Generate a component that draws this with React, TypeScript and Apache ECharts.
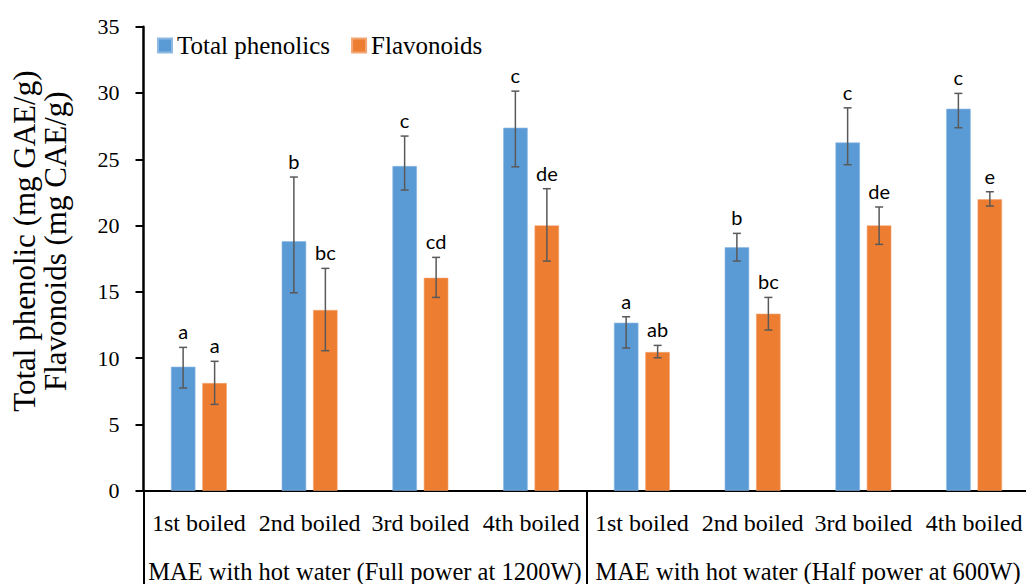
import React, { useEffect, useRef } from "react";
import * as echarts from "echarts";

const categories = ["1st boiled", "2nd boiled", "3rd boiled", "4th boiled", "1st boiled", "2nd boiled", "3rd boiled", "4th boiled"];
const groups = ["MAE with hot water (Full power at 1200W)", "MAE with hot water (Half power at 600W)"];
const seriesNames = ["Total phenolics", "Flavonoids"];

const phenolics = [9.35, 18.82, 24.49, 27.38, 12.67, 18.36, 26.27, 28.81];
const phenolicsLow = [7.75, 14.93, 22.68, 24.43, 10.76, 17.32, 24.59, 27.38];
const phenolicsHigh = [10.81, 23.66, 26.75, 30.14, 13.12, 19.41, 28.88, 29.97];
const phenolicsLetters = ["a", "b", "c", "c", "a", "b", "c", "c"];

const flavonoids = [8.12, 13.63, 16.06, 20.01, 10.46, 13.35, 20.01, 21.98];
const flavonoidsLow = [6.51, 10.56, 14.58, 17.32, 10.03, 12.12, 18.58, 21.47];
const flavonoidsHigh = [9.76, 16.77, 17.6, 22.78, 10.96, 14.58, 21.4, 22.55];
const flavonoidsLetters = ["a", "bc", "cd", "de", "ab", "bc", "de", "e"];

const yTicks = { min: 0, max: 35, interval: 5 };

const BLUE = "#5B9BD5";
const ORANGE = "#ED7D31";
const SERIF = "'Liberation Serif', serif";
const SANS = "Lato, 'Noto Sans', sans-serif";
const BAR_W = 24.5;
const BAR_GAP = 7;

function errorSeries(low: number[], high: number[], letters: string[], side: number) {
  return {
    type: "custom",
    xAxisIndex: 0,
    yAxisIndex: 0,
    z: 5,
    encode: { x: 0, y: [1, 2] },
    data: low.map((l, i) => [i, l, high[i]]),
    renderItem: (params: any, api: any) => {
      const i = api.value(0);
      const lo = api.coord([i, api.value(1)]);
      const hi = api.coord([i, api.value(2)]);
      const x = lo[0] + side * (BAR_W + BAR_GAP) / 2;
      const stroke = { stroke: "#595959", lineWidth: 1.5 };
      const cap = 4;
      return {
        type: "group",
        children: [
          { type: "line", shape: { x1: x, y1: lo[1], x2: x, y2: hi[1] }, style: stroke },
          { type: "line", shape: { x1: x - cap, y1: lo[1], x2: x + cap, y2: lo[1] }, style: stroke },
          { type: "line", shape: { x1: x - cap, y1: hi[1], x2: x + cap, y2: hi[1] }, style: stroke },
          {
            type: "text",
            x: x,
            y: hi[1] - 6,
            style: {
              text: letters[params.dataIndex],
              align: "center",
              verticalAlign: "bottom",
              fontSize: 20,
              fontFamily: SANS,
              fill: "#000",
            },
          },
        ],
      };
    },
  };
}

export default function App() {
  const ref = useRef<HTMLDivElement>(null);
  useEffect(() => {
    if (!ref.current) return;
    const chart = echarts.init(ref.current, undefined, { renderer: "svg" });
    chart.setOption({
      animation: false,
      backgroundColor: "#fff",
      grid: {
        left: 143.5,
        top: 26.7,
        width: 886,
        height: 464,
        containLabel: false,
        outerBoundsMode: "none",
      },
      legend: {
        data: seriesNames,
        left: 157,
        top: 33,
        padding: 0,
        itemWidth: 14,
        itemHeight: 14,
        itemGap: 21,
        icon: "rect",
        textStyle: { fontFamily: SERIF, fontSize: 25, color: "#000" },
      },
      xAxis: [
        {
          type: "category",
          data: categories,
          position: "bottom",
          axisLine: { show: true, lineStyle: { color: "#000", width: 2 } },
          axisTick: { show: false },
          axisLabel: { interval: 0, margin: 20, fontFamily: SERIF, fontSize: 24, color: "#000" },
          splitLine: { show: false },
        },
        {
          type: "category",
          data: groups,
          position: "bottom",
          offset: 0,
          axisLine: { show: false },
          axisTick: { show: true, length: 95, interval: 0, lineStyle: { color: "#000", width: 2 } },
          axisLabel: { interval: 0, margin: 68, fontFamily: SERIF, fontSize: 24.5, color: "#000" },
          splitLine: { show: false },
        },
      ],
      yAxis: {
        type: "value",
        min: yTicks.min,
        max: yTicks.max,
        interval: yTicks.interval,
        name: "Total phenolic (mg GAE/g)\nFlavonoids (mg CAE/g)",
        nameLocation: "middle",
        nameRotate: 90,
        nameGap: 73,
        nameTextStyle: {
          fontFamily: SERIF,
          fontSize: 31,
          lineHeight: 31,
          color: "#000",
          align: "center",
          padding: [0, 0, 0, 35],
        },
        axisLine: { show: true, lineStyle: { color: "#000", width: 2.5 } },
        axisTick: { show: true, length: 8, lineStyle: { color: "#000", width: 2 } },
        axisLabel: { margin: 24, fontFamily: SERIF, fontSize: 22, color: "#000" },
        splitLine: { show: false },
      },
      series: [
        {
          name: seriesNames[0],
          type: "bar",
          data: phenolics,
          barWidth: BAR_W,
          barGap: "28%",
          itemStyle: { color: BLUE, borderColor: "#8db9e3", borderWidth: 0.6 },
        },
        {
          name: seriesNames[1],
          type: "bar",
          data: flavonoids,
          barWidth: BAR_W,
          barGap: "28%",
          itemStyle: { color: ORANGE, borderColor: "#f3a574", borderWidth: 0.6 },
        },
        errorSeries(phenolicsLow, phenolicsHigh, phenolicsLetters, -1),
        errorSeries(flavonoidsLow, flavonoidsHigh, flavonoidsLetters, 1),
      ],
    });
    return () => chart.dispose();
  }, []);
  return (
    <div
      ref={ref}
      style={{ position: "absolute", left: 0, top: 0, width: 1026, height: 584 }}
    />
  );
}
